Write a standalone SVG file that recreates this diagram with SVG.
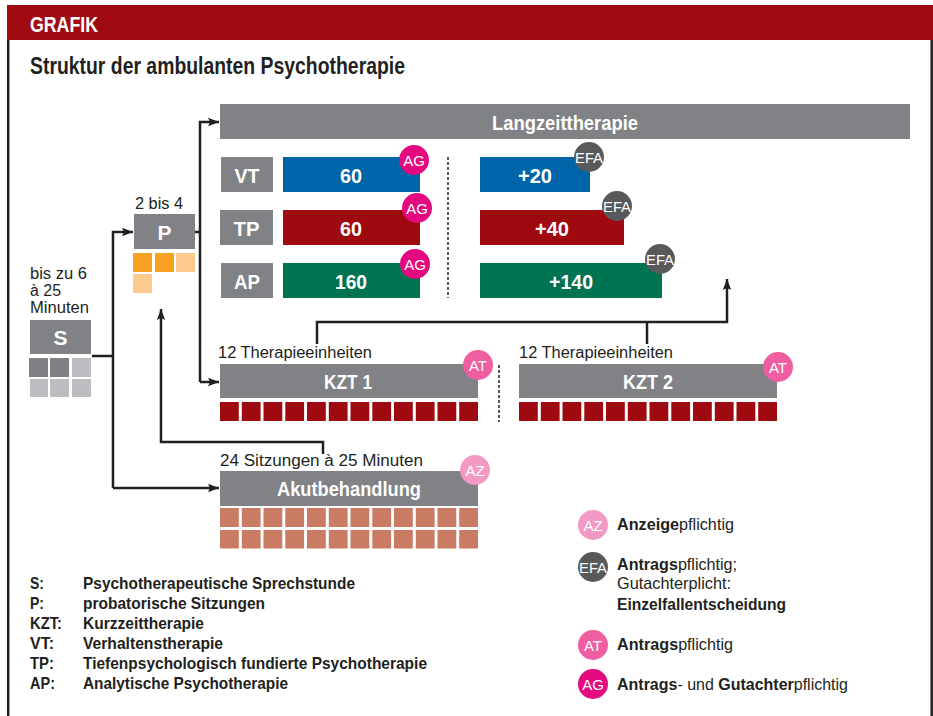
<svg xmlns="http://www.w3.org/2000/svg" width="933" height="716" viewBox="0 0 933 716">
<defs>
<style>
text{font-family:"Liberation Sans",Arial,sans-serif}
.b{font-weight:bold}
.w{fill:#fff}
.k{fill:#231f20}
.lbl{font-size:16px;fill:#231f20}
.box{font-size:21px;font-weight:bold;fill:#fff}
.gray{fill:#818286}
.conn{fill:none;stroke:#231f20;stroke-width:2.5}
.dash{stroke:#231f20;stroke-width:1.5;stroke-dasharray:3 2;fill:none}
.sqR{fill:#9e0a10}
.sqA{fill:#c97b63}
.ct{font-size:15px;fill:#fff;text-anchor:middle}
.leg{font-size:16.5px;fill:#231f20}
</style>
<marker id="ar" markerUnits="userSpaceOnUse" markerWidth="12" markerHeight="10" refX="11" refY="5" orient="auto">
<path d="M0,0.8 L11,5 L0,9.2 L2,5 Z" fill="#231f20"/>
</marker>
</defs>
<rect width="933" height="716" fill="#fff"/>
<!-- frame -->
<rect x="7" y="5" width="926" height="35" fill="#a00b12"/>
<line x1="8.2" y1="40" x2="8.2" y2="716" stroke="#231f20" stroke-width="2.5"/>
<line x1="931.7" y1="40" x2="931.7" y2="716" stroke="#231f20" stroke-width="2.5"/>
<text x="30" y="32" class="b w" font-size="22" textLength="68" lengthAdjust="spacingAndGlyphs">GRAFIK</text>
<text x="30" y="74" class="b k" font-size="23" textLength="375" lengthAdjust="spacingAndGlyphs">Struktur der ambulanten Psychotherapie</text>

<!-- connectors -->
<g id="connectors">
<path class="conn" d="M92,356 H113"/>
<path class="conn" d="M113,488 V232 H133" marker-end="url(#ar)"/>
<path class="conn" d="M113,488 H219" marker-end="url(#ar)"/>
<path class="conn" d="M195,232 H200"/>
<path class="conn" d="M200,382 V122 H219" marker-end="url(#ar)"/>
<path class="conn" d="M200,382 H219" marker-end="url(#ar)"/>
<path class="conn" d="M323,454 V442 H161 V309" marker-end="url(#ar)"/>
<path class="conn" d="M317,344 V322 H727 V279" marker-end="url(#ar)"/>
<path class="conn" d="M647,344 V322"/>
<line class="dash" x1="448" y1="157" x2="448" y2="298"/>
<line class="dash" x1="499" y1="365" x2="499" y2="422"/>
</g>

<!-- S -->
<g id="node-S">
<text class="lbl" x="30" y="279" textLength="57" lengthAdjust="spacingAndGlyphs">bis zu 6</text>
<text class="lbl" x="30" y="296" textLength="31" lengthAdjust="spacingAndGlyphs">à 25</text>
<text class="lbl" x="30" y="313" textLength="59" lengthAdjust="spacingAndGlyphs">Minuten</text>
<rect class="gray" x="30" y="320" width="61" height="34"/>
<text class="box" x="60.5" y="344.5" text-anchor="middle">S</text>
<rect x="29" y="358" width="19" height="19" fill="#7e8084"/>
<rect x="50" y="358" width="19" height="19" fill="#7e8084"/>
<rect x="72" y="358" width="19" height="19" fill="#bcbdc1"/>
<rect x="30" y="379" width="18" height="18" fill="#bcbdc1"/>
<rect x="50" y="379" width="19" height="18" fill="#bcbdc1"/>
<rect x="72" y="379" width="19" height="18" fill="#bcbdc1"/>
</g>

<!-- P -->
<g id="node-P">
<text class="lbl" x="135" y="209" textLength="48" lengthAdjust="spacingAndGlyphs">2 bis 4</text>
<rect class="gray" x="134" y="214" width="61" height="35"/>
<text class="box" x="164.5" y="239.5" text-anchor="middle">P</text>
<rect x="133" y="253" width="19" height="19" fill="#f7a021"/>
<rect x="155" y="253" width="19" height="19" fill="#f7a021"/>
<rect x="176" y="253" width="19" height="19" fill="#fdca8e"/>
<rect x="133" y="274" width="19" height="19" fill="#fdca8e"/>
</g>

<!-- Langzeittherapie -->
<g id="node-LZT">
<rect class="gray" x="220" y="104" width="690" height="35"/>
<text class="box" x="565" y="130" text-anchor="middle" textLength="146" lengthAdjust="spacingAndGlyphs">Langzeittherapie</text>
</g>

<g id="row-VT">
<rect class="gray" x="221" y="157" width="52" height="35"/>
<text class="box" x="247" y="182.5" text-anchor="middle" textLength="25" lengthAdjust="spacingAndGlyphs">VT</text>
<rect x="283" y="157" width="137" height="35" fill="#0065a8"/>
<text class="box" x="351" y="182.5" text-anchor="middle" textLength="22" lengthAdjust="spacingAndGlyphs">60</text>
<circle cx="414" cy="160" r="15" fill="#e5097f"/>
<text class="ct" x="414" y="165.5">AG</text>
<rect x="480" y="157" width="110" height="35" fill="#0065a8"/>
<text class="box" x="535" y="182.5" text-anchor="middle" textLength="34" lengthAdjust="spacingAndGlyphs">+20</text>
<circle cx="589" cy="157" r="15" fill="#58595b"/>
<text class="ct" x="589" y="162.5" font-size="14" textLength="28" lengthAdjust="spacingAndGlyphs">EFA</text>
</g>

<g id="row-TP">
<rect class="gray" x="220" y="210" width="53" height="35"/>
<text class="box" x="246.5" y="235.5" text-anchor="middle" textLength="26" lengthAdjust="spacingAndGlyphs">TP</text>
<rect x="283" y="210" width="137" height="35" fill="#9e0a10"/>
<text class="box" x="351" y="235.5" text-anchor="middle" textLength="22" lengthAdjust="spacingAndGlyphs">60</text>
<circle cx="417" cy="208" r="15" fill="#e5097f"/>
<text class="ct" x="417" y="213.5">AG</text>
<rect x="480" y="210" width="144" height="35" fill="#9e0a10"/>
<text class="box" x="552" y="235.5" text-anchor="middle" textLength="34" lengthAdjust="spacingAndGlyphs">+40</text>
<circle cx="617" cy="206" r="15" fill="#58595b"/>
<text class="ct" x="617" y="211.5" font-size="14" textLength="28" lengthAdjust="spacingAndGlyphs">EFA</text>
</g>

<g id="row-AP">
<rect class="gray" x="221" y="263" width="52" height="35"/>
<text class="box" x="247" y="288.5" text-anchor="middle" textLength="26" lengthAdjust="spacingAndGlyphs">AP</text>
<rect x="283" y="263" width="137" height="35" fill="#007352"/>
<text class="box" x="351" y="288.5" text-anchor="middle" textLength="32" lengthAdjust="spacingAndGlyphs">160</text>
<circle cx="415" cy="264" r="15" fill="#e5097f"/>
<text class="ct" x="415" y="269.5">AG</text>
<rect x="480" y="263" width="182" height="35" fill="#007352"/>
<text class="box" x="571" y="288.5" text-anchor="middle" textLength="44" lengthAdjust="spacingAndGlyphs">+140</text>
<circle cx="660" cy="259" r="15" fill="#58595b"/>
<text class="ct" x="660" y="264.5" font-size="14" textLength="28" lengthAdjust="spacingAndGlyphs">EFA</text>
</g>

<!-- KZT 1 -->
<g id="node-KZT1">
<text class="lbl" x="218" y="358" textLength="154" lengthAdjust="spacingAndGlyphs">12 Therapieeinheiten</text>
<rect class="gray" x="220" y="364" width="258" height="34"/>
<text class="box" x="348" y="389" text-anchor="middle" textLength="48" lengthAdjust="spacingAndGlyphs">KZT 1</text>
<circle cx="478" cy="365" r="15" fill="#ee5ea0"/>
<text class="ct" x="478" y="370.5">AT</text>
<g class="sqR">
<rect x="220" y="402" width="18.8" height="19"/><rect x="241.8" y="402" width="18.8" height="19"/><rect x="263.5" y="402" width="18.8" height="19"/><rect x="285.3" y="402" width="18.8" height="19"/><rect x="307" y="402" width="18.8" height="19"/><rect x="328.8" y="402" width="18.8" height="19"/><rect x="350.5" y="402" width="18.8" height="19"/><rect x="372.3" y="402" width="18.8" height="19"/><rect x="394" y="402" width="18.8" height="19"/><rect x="415.8" y="402" width="18.8" height="19"/><rect x="437.5" y="402" width="18.8" height="19"/><rect x="459.2" y="402" width="18.8" height="19"/>
</g>
</g>

<!-- KZT 2 -->
<g id="node-KZT2">
<text class="lbl" x="519" y="358" textLength="154" lengthAdjust="spacingAndGlyphs">12 Therapieeinheiten</text>
<rect class="gray" x="519" y="364" width="258" height="34"/>
<text class="box" x="648" y="389" text-anchor="middle" textLength="50" lengthAdjust="spacingAndGlyphs">KZT 2</text>
<circle cx="778" cy="367" r="15" fill="#ee5ea0"/>
<text class="ct" x="778" y="372.5">AT</text>
<g class="sqR">
<rect x="519" y="402" width="18.8" height="19"/><rect x="540.8" y="402" width="18.8" height="19"/><rect x="562.5" y="402" width="18.8" height="19"/><rect x="584.3" y="402" width="18.8" height="19"/><rect x="606" y="402" width="18.8" height="19"/><rect x="627.8" y="402" width="18.8" height="19"/><rect x="649.5" y="402" width="18.8" height="19"/><rect x="671.3" y="402" width="18.8" height="19"/><rect x="693" y="402" width="18.8" height="19"/><rect x="714.8" y="402" width="18.8" height="19"/><rect x="736.5" y="402" width="18.8" height="19"/><rect x="758.2" y="402" width="18.8" height="19"/>
</g>
</g>

<!-- Akutbehandlung -->
<g id="node-Akut">
<text class="lbl" x="220" y="466" textLength="203" lengthAdjust="spacingAndGlyphs">24 Sitzungen à 25 Minuten</text>
<rect class="gray" x="220" y="471" width="258" height="35"/>
<text class="box" x="349" y="496" text-anchor="middle" textLength="144" lengthAdjust="spacingAndGlyphs">Akutbehandlung</text>
<circle cx="475" cy="470" r="15" fill="#f29ac3"/>
<text class="ct" x="475" y="475.5">AZ</text>
<g class="sqA">
<rect x="220" y="508" width="18.8" height="19"/><rect x="241.8" y="508" width="18.8" height="19"/><rect x="263.5" y="508" width="18.8" height="19"/><rect x="285.3" y="508" width="18.8" height="19"/><rect x="307" y="508" width="18.8" height="19"/><rect x="328.8" y="508" width="18.8" height="19"/><rect x="350.5" y="508" width="18.8" height="19"/><rect x="372.3" y="508" width="18.8" height="19"/><rect x="394" y="508" width="18.8" height="19"/><rect x="415.8" y="508" width="18.8" height="19"/><rect x="437.5" y="508" width="18.8" height="19"/><rect x="459.2" y="508" width="18.8" height="19"/>
<rect x="220" y="530" width="18.8" height="18.5"/><rect x="241.8" y="530" width="18.8" height="18.5"/><rect x="263.5" y="530" width="18.8" height="18.5"/><rect x="285.3" y="530" width="18.8" height="18.5"/><rect x="307" y="530" width="18.8" height="18.5"/><rect x="328.8" y="530" width="18.8" height="18.5"/><rect x="350.5" y="530" width="18.8" height="18.5"/><rect x="372.3" y="530" width="18.8" height="18.5"/><rect x="394" y="530" width="18.8" height="18.5"/><rect x="415.8" y="530" width="18.8" height="18.5"/><rect x="437.5" y="530" width="18.8" height="18.5"/><rect x="459.2" y="530" width="18.8" height="18.5"/>
</g>
</g>

<!-- legend abbreviations -->
<g id="legend-abbr">
<text class="leg b" x="30" y="589" textLength="14" lengthAdjust="spacingAndGlyphs">S:</text>
<text class="leg b" x="83" y="589" textLength="272" lengthAdjust="spacingAndGlyphs">Psychotherapeutische Sprechstunde</text>
<text class="leg b" x="30" y="609" textLength="14" lengthAdjust="spacingAndGlyphs">P:</text>
<text class="leg b" x="83" y="609" textLength="182" lengthAdjust="spacingAndGlyphs">probatorische Sitzungen</text>
<text class="leg b" x="30" y="629" textLength="32" lengthAdjust="spacingAndGlyphs">KZT:</text>
<text class="leg b" x="83" y="629" textLength="121" lengthAdjust="spacingAndGlyphs">Kurzzeittherapie</text>
<text class="leg b" x="30" y="649" textLength="24" lengthAdjust="spacingAndGlyphs">VT:</text>
<text class="leg b" x="83" y="649" textLength="140" lengthAdjust="spacingAndGlyphs">Verhaltenstherapie</text>
<text class="leg b" x="30" y="669" textLength="24" lengthAdjust="spacingAndGlyphs">TP:</text>
<text class="leg b" x="83" y="669" textLength="344" lengthAdjust="spacingAndGlyphs">Tiefenpsychologisch fundierte Psychotherapie</text>
<text class="leg b" x="30" y="689" textLength="25" lengthAdjust="spacingAndGlyphs">AP:</text>
<text class="leg b" x="83" y="689" textLength="205" lengthAdjust="spacingAndGlyphs">Analytische Psychotherapie</text>
</g>

<!-- legend symbols -->
<g id="legend-symbols">
<circle cx="593" cy="525" r="15" fill="#f29ac3"/>
<text class="ct" x="593" y="530.5">AZ</text>
<text class="leg" x="617" y="530" textLength="117" lengthAdjust="spacingAndGlyphs"><tspan class="b">Anzeige</tspan>pflichtig</text>
<circle cx="593" cy="567" r="15" fill="#58595b"/>
<text class="ct" x="593" y="572.5" font-size="14" textLength="28" lengthAdjust="spacingAndGlyphs">EFA</text>
<text class="leg" x="617" y="570" textLength="120" lengthAdjust="spacingAndGlyphs"><tspan class="b">Antrags</tspan>pflichtig;</text>
<text class="leg" x="617" y="589" textLength="114" lengthAdjust="spacingAndGlyphs">Gutachterplicht:</text>
<text class="leg b" x="617" y="610" textLength="169" lengthAdjust="spacingAndGlyphs">Einzelfallentscheidung</text>
<circle cx="593" cy="645" r="15" fill="#ee5ea0"/>
<text class="ct" x="593" y="650.5">AT</text>
<text class="leg" x="617" y="650" textLength="116" lengthAdjust="spacingAndGlyphs"><tspan class="b">Antrags</tspan>pflichtig</text>
<circle cx="593" cy="684" r="15" fill="#e5097f"/>
<text class="ct" x="593" y="689.5">AG</text>
<text class="leg" x="617" y="690" textLength="231" lengthAdjust="spacingAndGlyphs"><tspan class="b">Antrags</tspan>- und <tspan class="b">Gutachter</tspan>pflichtig</text>
</g>
</svg>
